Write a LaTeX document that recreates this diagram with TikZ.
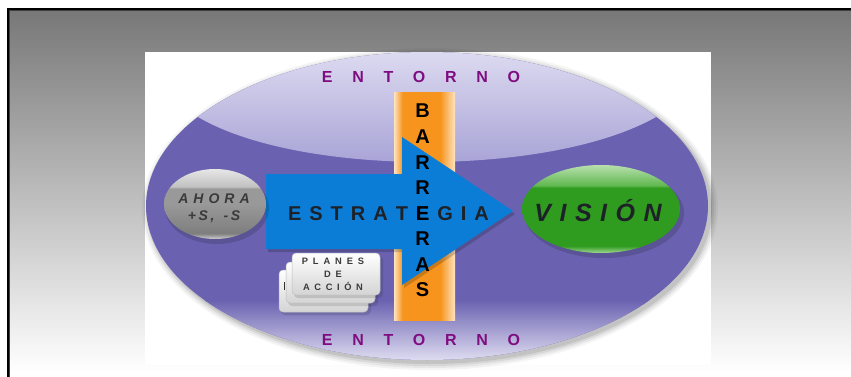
\documentclass[tikz,border=0pt]{standalone}
\usepackage{fontspec}
\setmainfont{Liberation Sans}
\usetikzlibrary{shapes.geometric}
\definecolor{bgTop}{HTML}{777777}
\definecolor{pMain}{HTML}{6A62B0}
\definecolor{pLight}{HTML}{DDDBF1}
\definecolor{pMid}{HTML}{A29DD3}
\definecolor{pBot}{HTML}{E2E0F3}
\definecolor{pBotMid}{HTML}{8C86C6}
\definecolor{entc}{HTML}{800D80}
\definecolor{orM}{HTML}{F7941D}
\definecolor{orL}{HTML}{FDE3C0}
\definecolor{arrowblue}{HTML}{0B7DD6}
\definecolor{txtDark}{HTML}{1E2128}
\definecolor{gRim}{HTML}{CFCFCF}
\definecolor{gDark}{HTML}{7E7E7E}
\definecolor{gMid}{HTML}{999999}
\definecolor{gHiA}{HTML}{C2C2C2}
\definecolor{gHiB}{HTML}{E6E6E6}
\definecolor{ahoraTxt}{HTML}{3A3A3A}
\definecolor{grRim}{HTML}{A3D896}
\definecolor{grMain}{HTML}{2F9C1F}
\definecolor{grHiA}{HTML}{62B952}
\definecolor{grHiB}{HTML}{B8E0AE}
\definecolor{cardBot}{HTML}{D4D4D4}
\definecolor{cardLine}{HTML}{BDBDBD}
\pgfdeclarehorizontalshading{barshade}{100bp}{color(0bp)=(orL); color(25bp)=(orL); color(32bp)=(orM); color(63bp)=(orM); color(75bp)=(orL); color(100bp)=(orL)}
\pgfdeclareverticalshading{ahorashade}{100bp}{color(0bp)=(gRim); color(25bp)=(gRim); color(29bp)=(gDark); color(50bp)=(gMid); color(61bp)=(gMid); color(62.5bp)=(gHiA); color(75bp)=(gHiB); color(100bp)=(gHiB)}
\pgfdeclareverticalshading{greenshade}{100bp}{color(0bp)=(grRim); color(25bp)=(grRim); color(29bp)=(grMain); color(62bp)=(grMain); color(63.5bp)=(grHiA); color(75bp)=(grHiB); color(100bp)=(grHiB)}
\makeatletter
\newcommand\spc[2]{\begingroup\def\spc@g{#1}\let\spc@f\relax\@tfor\spc@c:=#2\do{\ifx\spc@f\relax\let\spc@f\@empty\else\hspace{\spc@g}\fi\spc@c}\endgroup}
\makeatother
\newlength\estw
\newlength\ew
\newlength\estshift
\tikzset{
  lbl/.style={inner sep=0pt, anchor=base},
  entfont/.style={font=\fontsize{16}{16}\selectfont\bfseries, text=entc},
  bigfont/.style={font=\fontsize{20}{20}\selectfont\bfseries},
  cardtxt/.style={font=\fontsize{9.3}{9.3}\selectfont\bfseries, text=ahoraTxt},
  card/.style={rounded corners=4pt, top color=white, bottom color=cardBot, draw=cardLine, line width=0.5pt},
  cardshadow/.style={rounded corners=4pt, fill=black, opacity=0.12}
}
\begin{document}
\settowidth{\estw}{\fontsize{20}{20}\selectfont\bfseries\spc{8pt}{ESTRAT}\hspace{8pt}}%
\settowidth{\ew}{\fontsize{20}{20}\selectfont\bfseries E}%
\setlength{\estshift}{\dimexpr-\estw-\ew/2\relax}%
\begin{tikzpicture}[x=1pt,y=-1pt]
\useasboundingbox (0,0) rectangle (851,377);
% slide background
\fill[white] (0,0) rectangle (851,377);
\shade[top color=bgTop, bottom color=white] (8,9) rectangle (851,372);
\draw[line width=2pt] (8,377) -- (8,9) -- (851,9);
\draw[line width=0.8pt, black!75] (9.6,377) -- (9.6,10.6) -- (851,10.6);
% white panel
\fill[white] (145,52) rectangle (711,365);
% ellipse shadow
\foreach \i/\o in {7/0.04,5/0.05,3/0.07,1/0.09}
  \fill[black, opacity=\o] (430,209) ellipse ({281+\i} and {154+\i});
% main ellipse
\fill[pMain] (427,206) ellipse (281 and 154);
\begin{scope}
  \clip (427,206) ellipse (281 and 154);
  \shade[top color=pLight, bottom color=pMid] (140,50) -- (140,117) -- (198,117) .. controls (300,177) and (550,177) .. (656,117) -- (715,117) -- (715,50) -- cycle;
  \shade[top color=pMain, middle color=pBotMid, bottom color=pBot] (140,300) rectangle (715,362);
\end{scope}
% orange bar
\shade[shading=barshade] (394,93) rectangle (455,320);
% arrow shadow + arrow
\fill[black, opacity=0.18] (268,177) -- (404,177) -- (404,140) -- (515,214) -- (404,288) -- (404,252) -- (268,252) -- cycle;
\fill[arrowblue] (266,174) -- (402,174) -- (402,137) -- (513,211) -- (402,285) -- (402,249) -- (266,249) -- cycle;
% AHORA ellipse
\fill[black, opacity=0.15] (217,208) ellipse (52 and 36);
\shade[shading=ahorashade] (215,204) ellipse (51 and 35);
% VISION ellipse
\fill[black, opacity=0.15] (604,213) ellipse (80 and 45);
\shade[shading=greenshade] (601,209) ellipse (79 and 44);
% cards
\fill[cardshadow] (281,273) rectangle (371,315);
\shade[card] (279,270) rectangle (368,312);
\fill[black!80] (283.5,282) rectangle (284.8,290);
\fill[cardshadow] (288,265) rectangle (378,306);
\shade[card] (286,262) rectangle (375,303);
\fill[cardshadow] (294,256) rectangle (383,298);
\shade[card] (292,253) rectangle (380,295);
% texts
\node[lbl, entfont] (enttop) at (421,83) {\spc{19.7pt}{ENTORNO}};
\node[lbl, entfont] (entbot) at (421,345) {\spc{19.7pt}{ENTORNO}};
\node[lbl, bigfont, text=txtDark, anchor=base west, xshift=\estshift] (estrategia) at (422.5,220.5) {\spc{8pt}{ESTRATEGIA}};
\foreach \L [count=\k from 0] in {B,A,R,R,E,R,A,S}
  \node[lbl, bigfont, text=black] (bar\k) at (422.5,{118+\k*25.5}) {\L};
\node[lbl, font=\fontsize{14}{14}\selectfont\bfseries\itshape, text=ahoraTxt] (ahora) at (214,203.5) {\spc{5pt}{AHORA}};
\node[lbl, font=\fontsize{14}{14}\selectfont\bfseries\itshape, text=ahoraTxt] (ahora2) at (214,220) {\spc{2.6pt}{+S,{~}-S}};
\node[lbl, font=\fontsize{25}{25}\selectfont\bfseries\itshape, text=txtDark] (vision) at (598,221) {\spc{8.5pt}{VISIÓN}};
\node[lbl, cardtxt] (planes) at (333,264) {\spc{4.9pt}{PLANES}};
\node[lbl, cardtxt] (de) at (333,277.3) {\spc{4.9pt}{DE}};
\node[lbl, cardtxt] (accion) at (333,290.7) {\spc{4.6pt}{ACCIÓN}};
\end{tikzpicture}
\end{document}
